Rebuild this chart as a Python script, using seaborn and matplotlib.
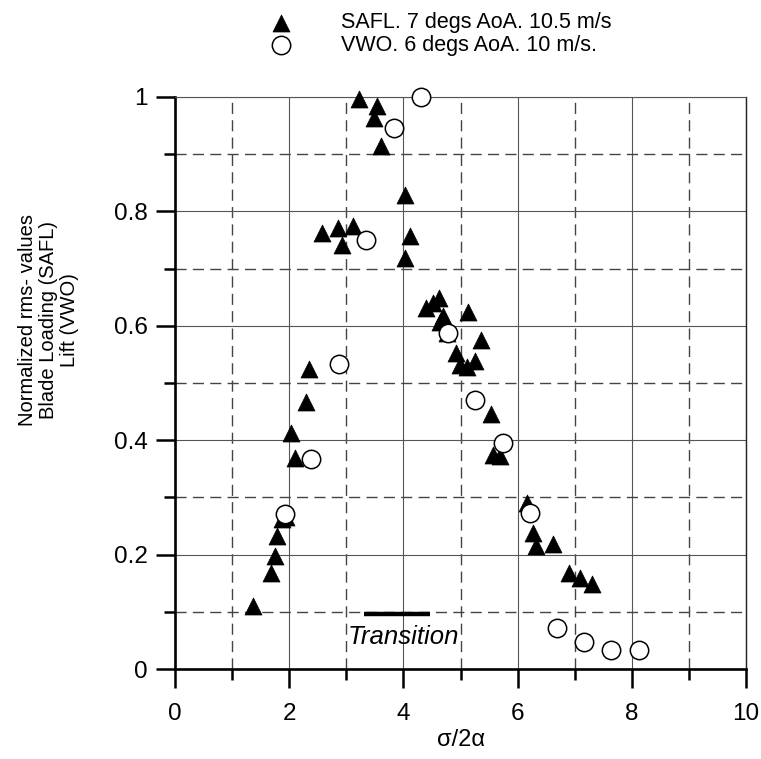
import matplotlib
matplotlib.use("Agg")
import matplotlib.pyplot as plt
import seaborn as sns
import pandas as pd
from matplotlib.ticker import MultipleLocator, FuncFormatter

# SAFL blade loading, 7 degs AoA, 10.5 m/s
safl_x = [1.36, 1.69, 1.76, 1.78, 1.88, 1.95, 2.04, 2.10, 2.29, 2.35,
          2.58, 2.86, 2.92, 3.12, 3.23, 3.48, 3.53, 3.60, 4.03, 4.03,
          4.11, 4.39, 4.52, 4.63, 4.64, 4.70, 4.76, 4.92, 4.99, 5.11,
          5.13, 5.25, 5.36, 5.54, 5.57, 5.69, 6.17, 6.27, 6.32, 6.62,
          6.90, 7.10, 7.31]
safl_y = [0.110, 0.167, 0.198, 0.233, 0.262, 0.265, 0.413, 0.369, 0.466, 0.524,
          0.763, 0.771, 0.741, 0.774, 0.996, 0.964, 0.984, 0.914, 0.829, 0.718,
          0.757, 0.631, 0.640, 0.649, 0.607, 0.618, 0.587, 0.553, 0.531, 0.528,
          0.624, 0.538, 0.576, 0.445, 0.374, 0.373, 0.290, 0.238, 0.215, 0.218,
          0.167, 0.159, 0.149]

# VWO lift, 6 degs AoA, 10 m/s
vwo_x = [1.93, 2.39, 2.88, 3.35, 3.83, 4.30, 4.78, 5.25, 5.74, 6.21,
         6.69, 7.17, 7.64, 8.12]
vwo_y = [0.271, 0.367, 0.534, 0.750, 0.945, 1.000, 0.587, 0.470, 0.395, 0.273,
         0.071, 0.048, 0.034, 0.033]

safl_label = "SAFL. 7 degs AoA. 10.5 m/s"
vwo_label = "VWO. 6 degs AoA. 10 m/s."

# transition range on the x axis
transition_x = [3.31, 4.47]
transition_y = 0.097

sns.set_style("white")
plt.rcParams["font.family"] = ["Liberation Sans", "DejaVu Sans"]
plt.rcParams.update({
    "text.color": "black",
    "axes.labelcolor": "black",
    "xtick.color": "black",
    "ytick.color": "black",
    "xtick.labelcolor": "black",
    "ytick.labelcolor": "black",
})

fig = plt.figure(figsize=(7.61, 7.59), dpi=100)
ax = fig.add_axes([175 / 761, 1 - 669 / 759, (746 - 175) / 761, (669 - 97) / 759])

safl = pd.DataFrame({"x": safl_x, "y": safl_y})
vwo = pd.DataFrame({"x": vwo_x, "y": vwo_y})

sns.scatterplot(data=safl, x="x", y="y", ax=ax, marker="^", s=150,
                color="black", edgecolor="black", linewidth=0.5,
                label=safl_label, zorder=3, clip_on=False)
sns.scatterplot(data=vwo, x="x", y="y", ax=ax, marker="o", s=175,
                facecolor="white", edgecolor="black", linewidth=1.1,
                label=vwo_label, zorder=4, clip_on=False)

ax.plot(transition_x, [transition_y, transition_y], color="black", lw=3.2,
        solid_capstyle="butt", zorder=3)
ax.text(4.0, 0.056, "Transition", style="italic",
        fontsize=18.5, ha="center", va="center")

ax.set_xlim(0, 10)
ax.set_ylim(0, 1)
ax.xaxis.set_major_locator(MultipleLocator(2))
ax.xaxis.set_minor_locator(MultipleLocator(1))
ax.yaxis.set_major_locator(MultipleLocator(0.2))
ax.yaxis.set_minor_locator(MultipleLocator(0.1))
ax.yaxis.set_major_formatter(FuncFormatter(lambda v, p: f"{v:g}"))

ax.grid(which="major", color="#555555", lw=0.8, ls="-", zorder=0)
ax.grid(which="minor", color="#444444", lw=1.0, ls=(0, (8, 4.5)), zorder=0)
ax.set_axisbelow(True)

for side in ("left", "bottom"):
    ax.spines[side].set_color("black")
    ax.spines[side].set_linewidth(1.9)
ax.spines["top"].set_color("#555555")
ax.spines["top"].set_linewidth(0.8)
ax.spines["right"].set_color("#222222")
ax.spines["right"].set_linewidth(1.0)

ax.tick_params(which="major", direction="out", length=13.5, width=1.8,
               labelsize=17.5, color="black")
ax.tick_params(which="minor", direction="out", length=8, width=1.8, color="black")
ax.tick_params(axis="x", which="major", pad=11)
ax.tick_params(axis="y", which="major", pad=6)
ax.tick_params(bottom=True, left=True, which="both")

ax.set_xlabel("σ/2α", fontsize=17, labelpad=3)
ax.set_ylabel("Normalized rms- values\nBlade Loading (SAFL)\nLift (VWO)",
              fontsize=14.5, linespacing=1.15)
ax.yaxis.set_label_coords(-0.168, 0.61)

ax.legend(loc="lower left", bbox_to_anchor=(95 / 571, 1.0725), frameon=False,
          fontsize=15.5, handlelength=1.0, handletextpad=2.3,
          labelspacing=0.05, borderaxespad=0, borderpad=0)

fig.savefig("out.png", dpi=100)
